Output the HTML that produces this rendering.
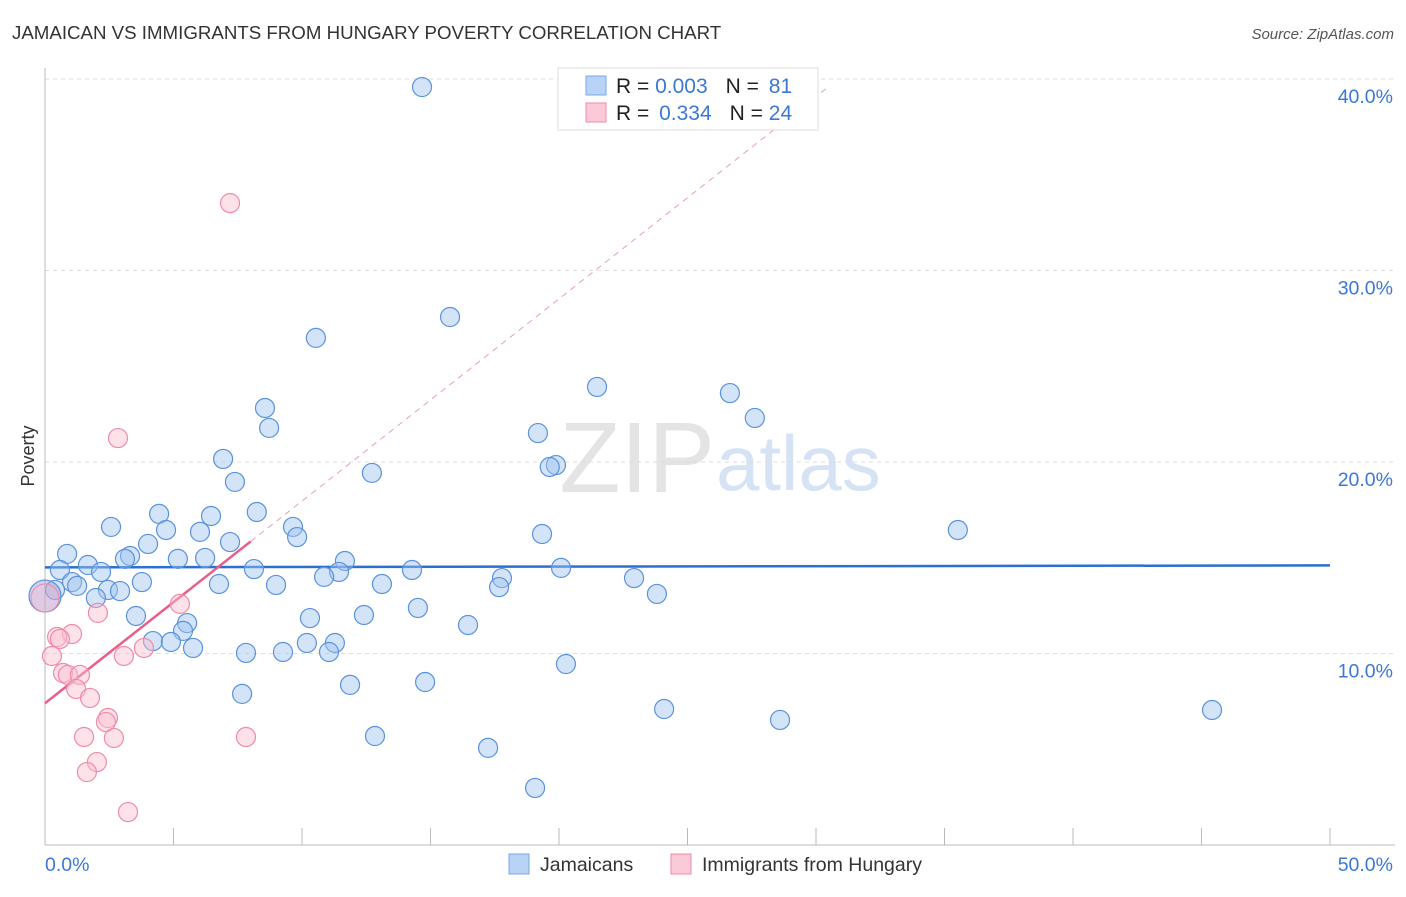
<!DOCTYPE html>
<html><head><meta charset="utf-8"><style>
body{margin:0;background:#fff;font-family:"Liberation Sans",sans-serif;}
svg text{font-family:"Liberation Sans",sans-serif;}
</style></head><body>
<svg id="chart" width="1406" height="892" xmlns="http://www.w3.org/2000/svg">
<text x="12" y="39" font-size="18.7" fill="#333">JAMAICAN VS IMMIGRANTS FROM HUNGARY POVERTY CORRELATION CHART</text>
<text x="1394" y="39" font-size="15" fill="#555" font-style="italic" text-anchor="end">Source: ZipAtlas.com</text>
<text x="715" y="492" font-size="100" fill="#e4e4e4" text-anchor="end" font-family="Liberation Serif">ZIP</text>
<text x="716" y="490" font-size="78" fill="#d6e3f5">atlas</text>
<text x="34" y="456" font-size="18" fill="#333" transform="rotate(-90 34 456)" text-anchor="middle">Poverty</text>
<g id="grid"></g><g id="axes"></g><g id="trend"></g><g id="pts"></g>
<g>
<rect x="558" y="68" width="260" height="62" fill="#fff" stroke="#ddd"/>
<rect x="586" y="76" width="20" height="19" fill="#b8d3f5" stroke="#7aa7e6"/>
<rect x="586" y="103" width="20" height="19" fill="#fbcad8" stroke="#f08aa8"/>
<text x="616" y="93" font-size="21" fill="#222">R = <tspan fill="#3b78d6">0.003</tspan><tspan dx="18">N = </tspan><tspan fill="#3b78d6" dx="4">81</tspan></text>
<text x="616" y="120" font-size="21" fill="#222">R = <tspan fill="#3b78d6" dx="4">0.334</tspan><tspan dx="18">N = </tspan><tspan fill="#3b78d6">24</tspan></text>
</g>
<g>
<rect x="509" y="854" width="20" height="20" fill="#b8d3f5" stroke="#7aa7e6"/>
<text x="540" y="871" font-size="19.5" fill="#333">Jamaicans</text>
<rect x="671" y="854" width="20" height="20" fill="#fbcad8" stroke="#f08aa8"/>
<text x="702" y="871" font-size="19.5" fill="#333">Immigrants from Hungary</text>
</g>
</svg>
<script>
const xTicks=[0,5,10,15,20,25,30,35,40,45,50];
const yTicks=[10,20,30,40];
const blueX=[14.67,15.76,10.54,21.48,26.65,27.62,8.56,8.72,19.18,6.93,19.88,19.64,12.72,7.39,8.24,4.44,6.46,2.57,4.71,9.65,35.52,6.03,19.34,9.81,4.01,7.2,0.86,3.31,3.11,5.17,6.23,11.67,1.67,0.58,2.18,8.13,14.28,20.08,11.44,10.86,17.78,22.92,3.77,1.05,1.25,8.99,13.11,6.77,17.67,2.45,2.92,1.98,23.81,0.39,14.51,3.54,10.31,12.41,5.53,16.46,5.37,4.2,4.9,10.19,11.28,5.76,9.26,7.82,11.05,20.27,14.79,11.87,7.67,24.09,45.41,28.6,12.84,17.24,19.07];
const blueY=[39.58,27.57,26.48,23.92,23.6,22.3,22.82,21.78,21.51,20.16,19.84,19.74,19.43,18.96,17.39,17.29,17.18,16.61,16.45,16.61,16.45,16.35,16.24,16.08,15.72,15.82,15.2,15.09,14.94,14.94,14.99,14.83,14.62,14.36,14.26,14.41,14.36,14.47,14.26,14.0,13.94,13.94,13.73,13.73,13.53,13.58,13.63,13.63,13.47,13.32,13.26,12.9,13.11,13.32,12.38,11.96,11.85,12.01,11.59,11.49,11.18,10.65,10.6,10.55,10.55,10.29,10.08,10.03,10.08,9.45,8.51,8.36,7.89,7.1,7.05,6.53,5.69,5.07,2.98];
const pinkX=[7.2,2.84,5.25,2.06,1.05,0.47,0.58,0.27,3.07,3.85,0.7,0.89,1.36,1.21,1.75,2.45,2.37,1.52,2.68,7.82,2.02,1.63,3.23];
const pinkY=[33.52,21.25,12.59,12.12,11.02,10.86,10.76,9.87,9.87,10.29,8.98,8.88,8.88,8.15,7.68,6.63,6.42,5.64,5.59,5.64,4.33,3.81,1.72];
const blueTrend=[14.5,14.6];
const pinkTrend=[7.4,1.056];
const NS='http://www.w3.org/2000/svg';
const X=v=>45+v/50*1285, Y=v=>845-v*19.15;
function mk(tag,attrs,parent){const e=document.createElementNS(NS,tag);for(const k in attrs)e.setAttribute(k,attrs[k]);document.getElementById(parent).appendChild(e);return e;}
yTicks.forEach(t=>{
 const l=mk('line',{x1:45,x2:1395,y1:Y(t),y2:Y(t),stroke:'#ddd','stroke-dasharray':'4,4'},'grid');
 
 
 const tx=mk('text',{x:1393,y:Y(t)+24,'font-size':19.5,fill:'#3b78d6','text-anchor':'end'},'grid');
 tx.textContent=t.toFixed(1)+'%';
 
 
});
let a=mk('line',{x1:45,x2:45,y1:68,y2:845,stroke:'#bbb'},'axes');


a=mk('line',{x1:45,x2:1395,y1:845,y2:845,stroke:'#bbb'},'axes');


xTicks.forEach(t=>{if(t===0)return;
 const l=mk('line',{x1:X(t),x2:X(t),y1:828,y2:845,stroke:'#bbb'},'axes');
 
 
});
[[0,'0.0%',45,'start'],[50,'50.0%',1393,'end']].forEach(([v,s,x,an])=>{
 const t=mk('text',{x:x,y:871,'font-size':19.5,fill:'#3b78d6','text-anchor':an},'axes');t.textContent=s;
 
 
});
let tl=mk('line',{x1:X(0),x2:X(50),y1:Y(blueTrend[0]),y2:Y(blueTrend[1]),stroke:'#2a6fd1','stroke-width':2.5},'trend');


tl=mk('line',{x1:X(8),x2:X(30.4),y1:Y(pinkTrend[0]+pinkTrend[1]*8),y2:Y(pinkTrend[0]+pinkTrend[1]*30.4),stroke:'#e8a0b4','stroke-width':1,'stroke-dasharray':'6,5'},'trend');


tl=mk('line',{x1:X(0),x2:X(8),y1:Y(pinkTrend[0]),y2:Y(pinkTrend[0]+pinkTrend[1]*8),stroke:'#e8608a','stroke-width':2.5},'trend');


blueX.forEach((x,i)=>{const c=mk('circle',{cx:X(x),cy:Y(blueY[i]),r:9.5,fill:'rgba(160,196,240,0.45)',stroke:'#5a92de','stroke-width':1.2},'pts');
 
 });
pinkX.forEach((x,i)=>{const c=mk('circle',{cx:X(x),cy:Y(pinkY[i]),r:9.5,fill:'rgba(250,190,208,0.45)',stroke:'#f08aa8','stroke-width':1.2},'pts');
 
 });
let b=mk('circle',{cx:X(0),cy:Y(13),r:16,fill:'rgba(160,150,210,0.45)',stroke:'#5a92de','stroke-width':1.2},'pts');


b=mk('circle',{cx:X(0),cy:Y(12.9),r:14,fill:'rgba(250,190,208,0.3)',stroke:'#f08aa8','stroke-width':1},'pts');


</script>
</body></html>
